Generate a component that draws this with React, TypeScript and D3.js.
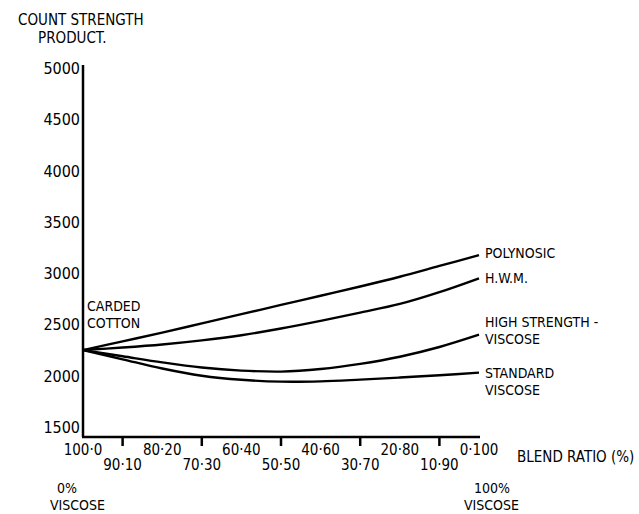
import React from "react";
import * as d3 from "d3";

// blend ratios cotton:viscose, left to right
const ratios = [
  "100·0", "90·10", "80·20", "70·30", "60·40", "50·50",
  "40·60", "30·70", "20·80", "10·90", "0·100",
];
const yTicks = [1500, 2000, 2500, 3000, 3500, 4000, 4500, 5000];

const polynosic = [2250, 2335, 2420, 2510, 2600, 2690, 2780, 2870, 2965, 3070, 3175];
const hwm = [2250, 2275, 2305, 2345, 2395, 2460, 2535, 2615, 2700, 2815, 2950];
const highStrength = [2250, 2190, 2130, 2080, 2050, 2040, 2065, 2115, 2185, 2280, 2400];
const standard = [2250, 2160, 2070, 2000, 1960, 1942, 1945, 1962, 1982, 2004, 2030];

const seriesNames = [["POLYNOSIC"], ["H.W.M."], ["HIGH STRENGTH -", "VISCOSE"], ["STANDARD", "VISCOSE"]];
const seriesValues = [polynosic, hwm, highStrength, standard];
// label baselines offset (px) relative to the line end
const labelDy = [3, 5, -8, 5];

const FONT = "'Liberation Sans Narrow', 'DejaVu Sans Condensed', sans-serif";

export default function App() {
  const width = 639;
  const height = 514;

  const x = d3.scalePoint<string>().domain(ratios).range([83, 479]);
  const y = d3.scaleLinear().domain([1500, 5000]).range([427, 68]);
  const yBottom = 437;
  const yTop = 65;

  const line = d3
    .line<number>()
    .x((_, i) => x(ratios[i]) ?? 0)
    .y((d) => y(d))
    .curve(d3.curveCatmullRom.alpha(0.5));

  return (
    <svg
      width={width}
      height={height}
      style={{ position: "absolute", left: 0, top: 0, background: "#fff" }}
      fontFamily={FONT}
      fill="#000"
    >
      {/* title */}
      <text x={18} y={25} fontSize={15}>COUNT STRENGTH</text>
      <text x={38} y={43} fontSize={15}>PRODUCT.</text>

      {/* y axis */}
      <line x1={83} x2={83} y1={yTop} y2={yBottom} stroke="#000" strokeWidth={2.5} />
      {yTicks.map((t) => (
        <text key={t} x={80} y={y(t) + 6} fontSize={16} textAnchor="end">
          {t}
        </text>
      ))}

      {/* x axis */}
      <line x1={82} x2={480} y1={yBottom} y2={yBottom} stroke="#000" strokeWidth={2.5} />
      {ratios.map((r, i) => {
        const px = x(r) ?? 0;
        const odd = i % 2 === 1;
        return (
          <g key={r}>
            {odd && (
              <line x1={px} x2={px} y1={yBottom} y2={yBottom + 9} stroke="#000" strokeWidth={2.5} />
            )}
            <text x={px} y={odd ? 470 : 455} fontSize={15} textAnchor="middle">
              {r}
            </text>
          </g>
        );
      })}
      <text x={517} y={462} fontSize={15}>BLEND RATIO (%)</text>
      <text x={57} y={493} fontSize={14}>0%</text>
      <text x={50} y={510} fontSize={14}>VISCOSE</text>
      <text x={474} y={493} fontSize={14}>100%</text>
      <text x={464} y={510} fontSize={14}>VISCOSE</text>

      <text x={87} y={311} fontSize={14}>CARDED</text>
      <text x={87} y={328} fontSize={14}>COTTON</text>

      {/* curves */}
      {seriesValues.map((vals, k) => (
        <path key={k} d={line(vals) ?? ""} fill="none" stroke="#000" strokeWidth={2.4} />
      ))}
      {seriesValues.map((vals, k) => {
        const yEnd = y(vals[vals.length - 1]) + labelDy[k];
        return (
          <text key={k} x={485} y={yEnd} fontSize={14}>
            {seriesNames[k].map((s, j) => (
              <tspan key={j} x={485} dy={j === 0 ? 0 : 17}>
                {s}
              </tspan>
            ))}
          </text>
        );
      })}
    </svg>
  );
}
